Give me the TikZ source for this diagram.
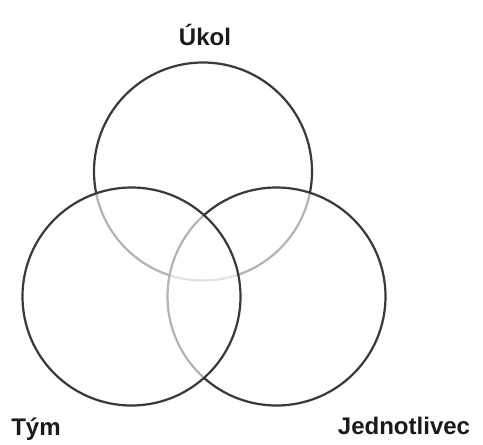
\documentclass[tikz,border=0pt]{standalone}
\usepackage{fontspec}
\setmainfont{Liberation Sans}
\usepackage{tikz}
\usetikzlibrary{positioning}
\definecolor{VNInk}{HTML}{3A3A3A}
\definecolor{VNText}{HTML}{1A1A1A}
\tikzset{
  ring/.style={circle,draw=VNInk,line width=1.9pt,fill=white,fill opacity=0.62,
               minimum size=6.54cm,inner sep=0pt},
  setlabel/.style={text=VNText,font=\fontsize{20.5}{24}\selectfont\bfseries,inner sep=0pt},
}
\begin{document}
\begin{tikzpicture}[x=0.03cm,y=-0.03cm]
    \useasboundingbox (0,0) rectangle (483,444);
    % drawn back to front, the lighter fill dims the arcs behind
    \node[ring] (ukol) at (203,171.5) {};
    \node[ring] (jednotlivec) at (276.5,296.5) {};
    \node[ring] (tym) at (131.5,296.5) {};

    \node[setlabel] (ukollbl) at (205,35) {Úkol};
    \node[setlabel] (tymlbl) at (36,429) {Tým};
    \node[setlabel] (jednotliveclbl) at (404,426) {Jednotlivec};
  \end{tikzpicture}
\end{document}
